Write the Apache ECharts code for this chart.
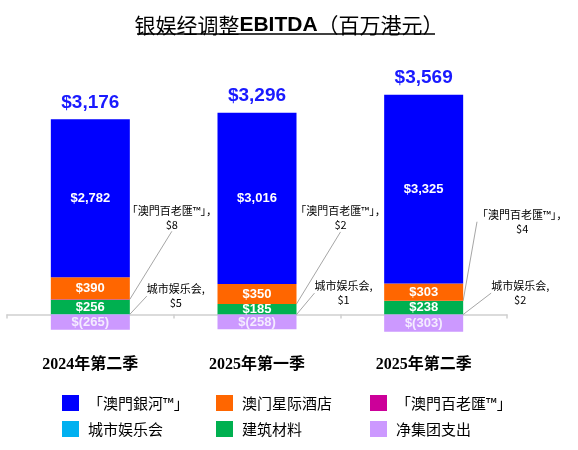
<!DOCTYPE html>
<html>
<head>
<meta charset="utf-8">
<script src="https://cdn.jsdelivr.net/npm/echarts@6/dist/echarts.min.js"></script>
<style>
html,body{margin:0;padding:0;background:#fff;}
#chart{width:578px;height:450px;}
</style>
</head>
<body>
<div id="chart"></div>
<script>
// ---- data ----
const categories = ['2024年第二季', '2025年第一季', '2025年第二季'];
const galaxyMacau = [2782, 3016, 3325];
const starWorld = [390, 350, 303];
const broadway = [8, 2, 4];
const cityClub = [5, 1, 2];
const construction = [256, 185, 238];
const corporate = [-265, -258, -303];
const totals = [3176, 3296, 3569];

const NAMES = {
  galaxy: '「澳門銀河™」',
  star: '澳门星际酒店',
  broadway: '「澳門百老匯™」',
  city: '城市娱乐会',
  construction: '建筑材料',
  corporate: '净集团支出'
};
const COLORS = {
  galaxy: '#0000FF',
  star: '#FF6600',
  broadway: '#CC0099',
  city: '#00B0F0',
  construction: '#00B050',
  corporate: '#CC99FF'
};

function fmt(v) {
  const s = Math.abs(v).toLocaleString('en-US');
  return v < 0 ? '$(' + s + ')' : '$' + s;
}

// height of the positive stack (where the total label sits)
const positiveTop = categories.map(function (_, i) {
  return galaxyMacau[i] + starWorld[i] + broadway[i] + cityClub[i] + construction[i];
});

// callout layout offsets (relative to bar rect)
const BW_LAYOUT = [
  {dx: 42, dy: -82, line: [[0, 0], [20, -33], [41, -66]]},
  {dx: 44, dy: -86, line: [[0, 0], [21, -35], [42, -71]]},
  {dx: 59, dy: -79, line: [[1, 0], [1, -79], [10, -79]]}
];
const CC_LAYOUT = [
  {dx: 46, dy: -18.5, line: [[0, 0], [10, -18], [17, -18]]},
  {dx: 47, dy: -21.5, line: [[0, 0], [11, -22], [17, -22]]},
  {dx: 57, dy: -21.5, line: [[0, 0], [20, -22], [26, -22]]}
];

function calloutLayout(table, useBottom) {
  return function (p) {
    const o = table[p.dataIndex];
    const ax = p.rect.x + p.rect.width;
    const ay = useBottom ? p.rect.y + p.rect.height : p.rect.y;
    return {
      x: ax + o.dx,
      y: ay + o.dy,
      align: 'center',
      verticalAlign: 'middle',
      labelLinePoints: o.line.map(function (pt) { return [ax + pt[0], ay + pt[1]]; })
    };
  };
}

const insideLabel = {
  show: true,
  position: 'inside',
  color: '#fff',
  fontFamily: 'Liberation Sans, Arial, sans-serif',
  fontWeight: 'bold',
  fontSize: 13,
  formatter: function (p) { return fmt(p.value); }
};

const calloutText = {
  show: true,
  position: 'right',
  color: '#000',
  fontFamily: 'Noto Sans CJK SC, sans-serif',
  fontSize: 11,
  lineHeight: 14
};

const BAR_W = '47.4%';

const chart = echarts.init(document.getElementById('chart'));
chart.setOption({
  animation: false,
  backgroundColor: '#fff',
  title: {
    left: 'center',
    top: 6,
    text: '{a|银娱经调整}{b|EBITDA}{a|（百万港元）}',
    textStyle: {
      rich: {
        a: {fontFamily: 'Noto Sans CJK SC, sans-serif', fontWeight: 'normal', fontSize: 21, color: '#000', lineHeight: 28},
        b: {fontFamily: 'Liberation Sans, Arial, sans-serif', fontWeight: 'bold', fontSize: 21, color: '#000', lineHeight: 28}
      }
    }
  },
  graphic: [{
    type: 'line',
    shape: {x1: 137, y1: 34, x2: 435, y2: 34},
    style: {stroke: '#000', lineWidth: 1.5}
  }],
  legend: [
    {data: [NAMES.galaxy, NAMES.city]},
    {data: [NAMES.star, NAMES.construction]},
    {data: [NAMES.broadway, NAMES.corporate]}
  ].map(function (l, i) {
    return Object.assign(l, {
      orient: 'vertical',
      left: 62 + i * 154,
      top: 395,
      padding: 0,
      itemWidth: 17,
      itemHeight: 16,
      itemGap: 10,
      icon: 'rect',
      selectedMode: false,
      textStyle: {fontFamily: 'Noto Sans CJK SC, sans-serif', fontSize: 15, color: '#000', padding: [0, 0, 0, 4]}
    });
  }),
  grid: {left: 7, right: 71, top: 59, height: 284, containLabel: false},
  xAxis: {
    type: 'category',
    data: categories,
    axisLine: {show: true, onZero: true, lineStyle: {color: '#d0d0d0', width: 1.5}},
    axisTick: {show: true, length: 4, lineStyle: {color: '#d0d0d0', width: 1.5}},
    axisLabel: {
      margin: 14,
      color: '#000',
      fontFamily: 'Liberation Serif, Times New Roman, Noto Sans CJK SC, serif',
      fontWeight: 'bold',
      fontSize: 16
    },
    splitLine: {show: false}
  },
  yAxis: {
    type: 'value',
    min: -500,
    max: 4500,
    show: false,
    splitLine: {show: false}
  },
  series: [
    {
      name: NAMES.city, type: 'bar', stack: 'total', barWidth: BAR_W,
      data: cityClub, itemStyle: {color: COLORS.city},
      label: Object.assign({}, calloutText, {
        formatter: function (p) { return '城市娱乐会,\n' + fmt(p.value); }
      }),
      labelLine: {show: true, lineStyle: {color: '#a6a6a6', width: 1}},
      labelLayout: calloutLayout(CC_LAYOUT, true)
    },
    {
      name: NAMES.construction, type: 'bar', stack: 'total', barWidth: BAR_W,
      data: construction, itemStyle: {color: COLORS.construction},
      label: insideLabel
    },
    {
      name: NAMES.broadway, type: 'bar', stack: 'total', barWidth: BAR_W,
      data: broadway, itemStyle: {color: COLORS.broadway},
      label: Object.assign({}, calloutText, {
        formatter: function (p) { return '「澳門百老匯™」，\n' + fmt(p.value); }
      }),
      labelLine: {show: true, lineStyle: {color: '#a6a6a6', width: 1}},
      labelLayout: calloutLayout(BW_LAYOUT, false)
    },
    {
      name: NAMES.star, type: 'bar', stack: 'total', barWidth: BAR_W,
      data: starWorld, itemStyle: {color: COLORS.star},
      label: insideLabel
    },
    {
      name: NAMES.galaxy, type: 'bar', stack: 'total', barWidth: BAR_W,
      data: galaxyMacau, itemStyle: {color: COLORS.galaxy},
      label: insideLabel
    },
    {
      name: NAMES.corporate, type: 'bar', stack: 'total', barWidth: BAR_W,
      data: corporate, itemStyle: {color: COLORS.corporate},
      label: Object.assign({}, insideLabel, {color: '#f4ecff'})
    },
    {
      // invisible overlay reaching the top of the positive stack; carries the total label
      name: 'total', type: 'bar', barWidth: BAR_W, barGap: '-100%', z: 1,
      data: positiveTop,
      itemStyle: {color: 'rgba(0,0,0,0)'},
      label: {
        show: true,
        position: 'top',
        distance: 7,
        color: '#1a1aff',
        fontFamily: 'Liberation Sans, Arial, sans-serif',
        fontWeight: 'bold',
        fontSize: 19,
        formatter: function (p) { return fmt(totals[p.dataIndex]); }
      },
      silent: true
    }
  ]
});
</script>
</body>
</html>
